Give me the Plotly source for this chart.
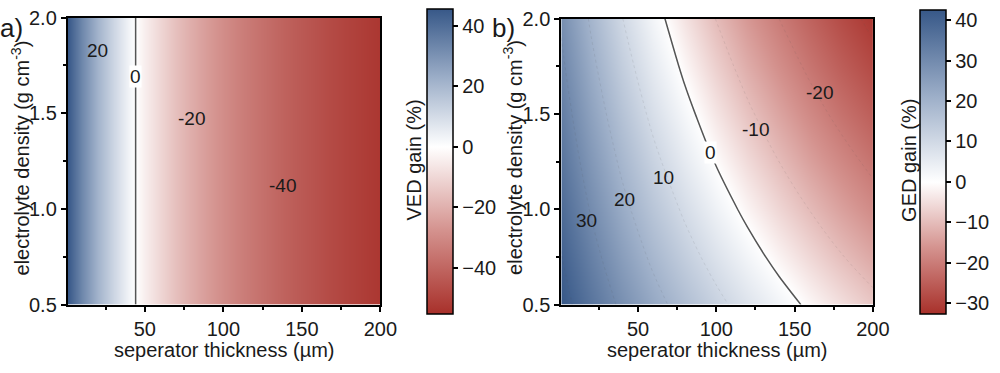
import plotly.graph_objects as go

# ---------------- data ----------------
sep_a = [0, 10, 20, 30, 40, 50, 60, 70, 80, 90, 100, 110, 120, 130, 140, 150, 160, 170, 180, 190, 200]
ved_gain = [47.2, 32.9, 21.2, 11.4, 3.0, -4.2, -10.4, -15.9, -20.8, -25.1, -29.0,
             -32.5, -35.6, -38.5, -41.2, -43.6, -45.8, -47.9, -49.8, -51.5, -53.2]
rho_a = [0.5, 2.0]

sep_b = [0, 20, 40, 60, 80, 100, 120, 140, 160, 180, 200]
rho_b = [0.5, 0.75, 1.0, 1.25, 1.5, 1.75, 2.0]
ged_r050 = [43.0, 35.4, 28.6, 22.5, 16.9, 11.8, 7.1, 2.8, -1.2, -4.8, -8.3]
ged_r075 = [40.6, 32.4, 25.1, 18.6, 12.7, 7.4, 2.6, -1.9, -5.9, -9.7, -13.1]
ged_r100 = [38.3, 29.5, 21.8, 15.0, 8.9, 3.4, -1.6, -6.1, -10.2, -14.0, -17.5]
ged_r125 = [36.0, 26.7, 18.7, 11.6, 5.2, -0.4, -5.4, -10.0, -14.2, -17.9, -21.4]
ged_r150 = [33.8, 24.1, 15.7, 8.3, 1.9, -3.9, -9.0, -13.6, -17.8, -21.6, -25.0]
ged_r175 = [31.7, 21.6, 12.8, 5.3, -1.3, -7.1, -12.3, -16.9, -21.1, -24.9, -28.3]
ged_r200 = [29.7, 19.1, 10.1, 2.4, -4.3, -10.2, -15.4, -20.0, -24.1, -27.9, -31.3]

ved_range = [-55.2, 45.6]
ged_range = [-32.6, 42.6]

ved_label_text = ["20", "0", "-20", "-40"]
ved_label_x = [19.8, 44.2, 79.7, 137.8]
ved_label_y = [1.83, 1.69, 1.47, 1.12]

ged_label_text = ["30", "20", "10", "0", "-10", "-20"]
ged_label_x = [17, 41.2, 66.4, 96, 125.2, 166.2]
ged_label_y = [0.94, 1.05, 1.165, 1.30, 1.42, 1.61]

x_ticks = [50, 100, 150, 200]
y_ticks = [0.5, 1.0, 1.5, 2.0]

# ---------------- styling ----------------
FONT = "Arial, Liberation Sans, sans-serif"
TXT = "#1a1a1a"
BLUE = "#375888"
RED = "#a8302a"
W, H = 1000, 373
FS = 20


def cscale(lo, hi):
    f = -lo / (hi - lo)
    return [[0, RED], [f / 2, "#d4928e"], [f, "#ffffff"], [f + (1 - f) / 2, "#9caec8"], [1, BLUE]]


def px_x(p):
    return p / W


def px_y(p):
    return 1 - p / H


fig = go.Figure()

z_a = [ved_gain for _ in rho_a]
z_b = [ged_r050, ged_r075, ged_r100, ged_r125, ged_r150, ged_r175, ged_r200]

# panel a
fig.add_trace(go.Contour(
    x=sep_a, y=rho_a, z=z_a, xaxis="x", yaxis="y",
    colorscale=cscale(*ved_range), zmin=ved_range[0], zmax=ved_range[1],
    contours=dict(coloring="heatmap", start=-40, end=40, size=20), line=dict(width=0),
    colorbar=dict(x=px_x(434), xanchor="left", xpad=0, ypad=0, thickness=26,
                  len=305, lenmode="pixels", y=px_y(159.5), yanchor="middle",
                  outlinewidth=1.5, outlinecolor="black", ticks="outside", ticklen=5,
                  tickwidth=1.5, tickcolor="black", tickvals=[-40, -20, 0, 20, 40],
                  tickfont=dict(family=FONT, size=FS, color=TXT)),
    hoverinfo="skip"))
fig.add_trace(go.Contour(
    x=sep_a, y=rho_a, z=z_a, xaxis="x", yaxis="y", showscale=False,
    contours=dict(coloring="none", start=0, end=0.5, size=1),
    line=dict(color="#555555", width=1.5), hoverinfo="skip"))

# panel b
fig.add_trace(go.Contour(
    x=sep_b, y=rho_b, z=z_b, xaxis="x2", yaxis="y2",
    colorscale=cscale(*ged_range), zmin=ged_range[0], zmax=ged_range[1],
    contours=dict(coloring="heatmap", start=-30, end=40, size=10), line=dict(width=0),
    colorbar=dict(x=px_x(936), xanchor="left", xpad=0, ypad=0, thickness=26,
                  len=304, lenmode="pixels", y=px_y(160), yanchor="middle",
                  outlinewidth=1.5, outlinecolor="black", ticks="outside", ticklen=5,
                  tickwidth=1.5, tickcolor="black", tickvals=[-30, -20, -10, 0, 10, 20, 30, 40],
                  tickfont=dict(family=FONT, size=FS, color=TXT)),
    hoverinfo="skip"))
fig.add_trace(go.Contour(
    x=sep_b, y=rho_b, z=z_b, xaxis="x2", yaxis="y2", showscale=False,
    contours=dict(coloring="none", start=-30, end=40, size=10),
    line=dict(color="rgba(90,90,90,0.12)", width=1, dash="dot"), hoverinfo="skip"))
fig.add_trace(go.Contour(
    x=sep_b, y=rho_b, z=z_b, xaxis="x2", yaxis="y2", showscale=False,
    contours=dict(coloring="none", start=0, end=0.5, size=1),
    line=dict(color="#555555", width=1.5), hoverinfo="skip"))

axis_common = dict(showline=True, linewidth=2, linecolor="black", mirror=True,
                   ticks="outside", ticklen=5, tickwidth=1.5, tickcolor="black",
                   showgrid=False, zeroline=False, ticklabeloverflow="allow",
                   tickfont=dict(family=FONT, size=FS, color=TXT))

fig.update_layout(
    width=W, height=H, margin=dict(l=0, r=0, t=0, b=0),
    paper_bgcolor="white", plot_bgcolor="white", showlegend=False,
    xaxis=dict(domain=[px_x(69), px_x(387)], range=[1, 200], anchor="y", tickvals=x_ticks,
               minor=dict(tickvals=[25, 75, 125, 175], ticks="outside", ticklen=3,
                          tickwidth=1.5, tickcolor="black"), **axis_common),
    yaxis=dict(domain=[px_y(312), px_y(7)], range=[0.5, 2.0], anchor="x", tickvals=y_ticks,
               tickformat=".1f",
               minor=dict(tickvals=[0.75, 1.25, 1.75], ticks="outside", ticklen=3,
                          tickwidth=1.5, tickcolor="black"), **axis_common),
    xaxis2=dict(domain=[px_x(571), px_x(888)], range=[1, 200], anchor="y2", tickvals=x_ticks,
                minor=dict(tickvals=[25, 75, 125, 175], ticks="outside", ticklen=3,
                           tickwidth=1.5, tickcolor="black"), **axis_common),
    yaxis2=dict(domain=[px_y(312), px_y(8)], range=[0.5, 2.0], anchor="x2", tickvals=y_ticks,
                tickformat=".1f",
                minor=dict(tickvals=[0.75, 1.25, 1.75], ticks="outside", ticklen=3,
                           tickwidth=1.5, tickcolor="black"), **axis_common),
)

ann = []
for t, x, y in zip(ved_label_text, ved_label_x, ved_label_y):
    a = dict(text=t, x=x, y=y, xref="x", yref="y", showarrow=False,
             xanchor="center", yanchor="middle",
             font=dict(family=FONT, size=19, color=TXT))
    if t == "0":
        a.update(bgcolor="white", borderpad=0)
    ann.append(a)
for t, x, y in zip(ged_label_text, ged_label_x, ged_label_y):
    a = dict(text=t, x=x, y=y, xref="x2", yref="y2", showarrow=False,
             xanchor="center", yanchor="middle",
             font=dict(family=FONT, size=19, color=TXT))
    if t == "0":
        a.update(bgcolor="white", borderpad=0)
    ann.append(a)

title_font = dict(family=FONT, size=FS, color=TXT)
C = dict(xref="paper", yref="paper", showarrow=False, xanchor="center", yanchor="middle")
ann += [
    dict(text="seperator thickness (µm)", x=px_x(228), y=px_y(360), font=title_font, **C),
    dict(text="seperator thickness (µm)", x=px_x(729), y=px_y(360), font=title_font, **C),
    dict(text="electrolyte density (g cm<sup>-3</sup>)", x=px_x(21), y=px_y(156),
         textangle=-90, font=title_font, **C),
    dict(text="electrolyte density (g cm<sup>-3</sup>)", x=px_x(522), y=px_y(156),
         textangle=-90, font=title_font, **C),
    dict(text="VED gain (%)", x=px_x(421), y=px_y(158), textangle=-90, font=title_font, **C),
    dict(text="GED gain (%)", x=px_x(924), y=px_y(159), textangle=-90, font=title_font, **C),
    dict(text="a)", x=px_x(-2), y=px_y(18), xref="paper", yref="paper", xanchor="left",
         yanchor="middle", showarrow=False, font=dict(family=FONT, size=26, color=TXT)),
    dict(text="b)", x=px_x(498), y=px_y(18), xref="paper", yref="paper", xanchor="left",
         yanchor="middle", showarrow=False, font=dict(family=FONT, size=26, color=TXT)),
]
fig.update_layout(annotations=ann)

fig.write_html("out.html", config={"displayModeBar": False},
               post_script="document.body.style.margin='0';document.body.style.overflow='hidden';")
